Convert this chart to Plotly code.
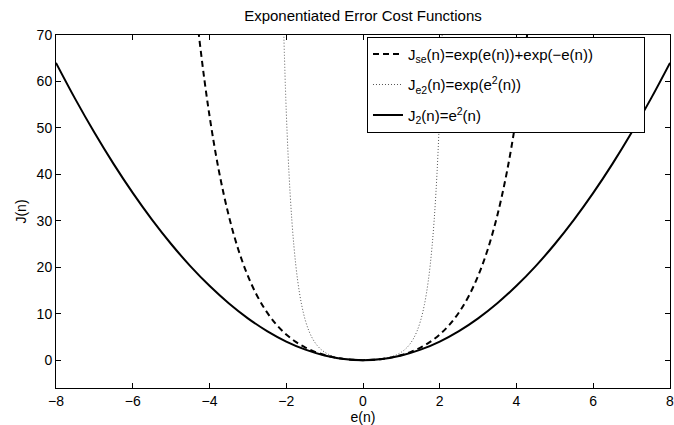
import plotly.graph_objects as go

# J2(n) = e^2(n), read at 0.5 steps
e_sq = [-8, -7.5, -7, -6.5, -6, -5.5, -5, -4.5, -4, -3.5, -3, -2.5, -2, -1.5, -1, -0.5,
        0, 0.5, 1, 1.5, 2, 2.5, 3, 3.5, 4, 4.5, 5, 5.5, 6, 6.5, 7, 7.5, 8]
j_sq = [64, 56.25, 49, 42.25, 36, 30.25, 25, 20.25, 16, 12.25, 9, 6.25, 4, 2.25, 1, 0.25,
        0, 0.25, 1, 2.25, 4, 6.25, 9, 12.25, 16, 20.25, 25, 30.25, 36, 42.25, 49, 56.25, 64]

# Jse(n) dashed curve
e_se = [-4.5, -4.25, -4, -3.75, -3.5, -3.25, -3, -2.75, -2.5, -2.25, -2, -1.75, -1.5, -1.25,
        -1, -0.75, -0.5, -0.25, 0, 0.25, 0.5, 0.75, 1, 1.25, 1.5, 1.75, 2, 2.25, 2.5, 2.75,
        3, 3.25, 3.5, 3.75, 4, 4.25, 4.5]
j_se = [88.03, 68.11, 52.62, 40.54, 31.15, 23.83, 18.14, 13.71, 10.27, 7.59, 5.52, 3.93, 2.70, 1.78,
        1.09, 0.59, 0.26, 0.06, 0, 0.06, 0.26, 0.59, 1.09, 1.78, 2.70, 3.93, 5.52, 7.59, 10.27, 13.71,
        18.14, 23.83, 31.15, 40.54, 52.62, 68.11, 88.03]

# Je2(n) dotted curve
e_e2 = [-2.1, -2.0, -1.9, -1.8, -1.7, -1.6, -1.5, -1.4, -1.3, -1.2, -1.1, -1.0, -0.9, -0.8, -0.7,
        -0.6, -0.5, -0.4, -0.3, -0.2, -0.1, 0, 0.1, 0.2, 0.3, 0.4, 0.5, 0.6, 0.7, 0.8, 0.9, 1.0,
        1.1, 1.2, 1.3, 1.4, 1.5, 1.6, 1.7, 1.8, 1.9, 2.0, 2.1]
j_e2 = [81.27, 53.60, 35.97, 24.53, 16.99, 11.94, 8.49, 6.10, 4.42, 3.22, 2.35, 1.72, 1.25, 0.90, 0.63,
        0.43, 0.28, 0.17, 0.09, 0.04, 0.01, 0, 0.01, 0.04, 0.09, 0.17, 0.28, 0.43, 0.63, 0.90, 1.25, 1.72,
        2.35, 3.22, 4.42, 6.10, 8.49, 11.94, 16.99, 24.53, 35.97, 53.60, 81.27]

x_ticks = [-8, -6, -4, -2, 0, 2, 4, 6, 8]
y_ticks = [0, 10, 20, 30, 40, 50, 60, 70]

FONT = "Liberation Sans, Arial, Helvetica, sans-serif"
PAD = "\u00a0" * 11

fig = go.Figure()
fig.add_trace(go.Scatter(x=e_se, y=j_se, mode="lines", line_shape="spline", legendgroup="a",
                         name="J<sub>se</sub>(n)=exp(e(n))+exp(\u2212e(n))" + PAD,
                         line=dict(color="black", width=2, dash="6px,4px")))
fig.add_trace(go.Scatter(x=e_e2, y=j_e2, mode="lines", line_shape="spline", legendgroup="b",
                         name="J<sub>e2</sub>(n)=exp(e<sup>2</sup>(n))",
                         line=dict(color="#555555", width=1, dash="1px,2px")))
fig.add_trace(go.Scatter(x=e_sq, y=j_sq, mode="lines", line_shape="spline", legendgroup="c",
                         name="J<sub>2</sub>(n)=e<sup>2</sup>(n)",
                         line=dict(color="black", width=2)))

axis_common = dict(showgrid=False, zeroline=False, showline=True, linecolor="black", linewidth=1,
                   mirror="ticks", ticks="inside", ticklen=5, tickcolor="black", tickwidth=1,
                   automargin=False, ticklabeloverflow="allow",
                   tickfont=dict(family=FONT, size=14, color="black"))

fig.update_layout(
    width=674, height=425,
    margin=dict(l=56, r=4, t=35, b=37),
    paper_bgcolor="white", plot_bgcolor="white",
    font=dict(family=FONT, size=14, color="black"),
    title=dict(text="Exponentiated Error Cost Functions", x=0.5385, xanchor="center",
               y=1 - 16 / 425, yanchor="middle", font=dict(family=FONT, size=15, color="black")),
    xaxis=dict(range=[-8, 8], tickvals=x_ticks, ticktext=[("\u2212" + str(-v)) if v < 0 else str(v) for v in x_ticks],
               title=dict(text="e(n)", standoff=3, font=dict(family=FONT, size=14)), **axis_common),
    yaxis=dict(range=[-6, 70], tickvals=y_ticks,
               title=dict(text="J(n)", standoff=6, font=dict(family=FONT, size=14)), **axis_common),
    legend=dict(x=0.5065, y=0.995, xanchor="left", yanchor="top", bordercolor="black", borderwidth=1,
                bgcolor="white", font=dict(family=FONT, size=15, color="black"), tracegroupgap=8),
    showlegend=True,
)

fig.write_html("out.html")
